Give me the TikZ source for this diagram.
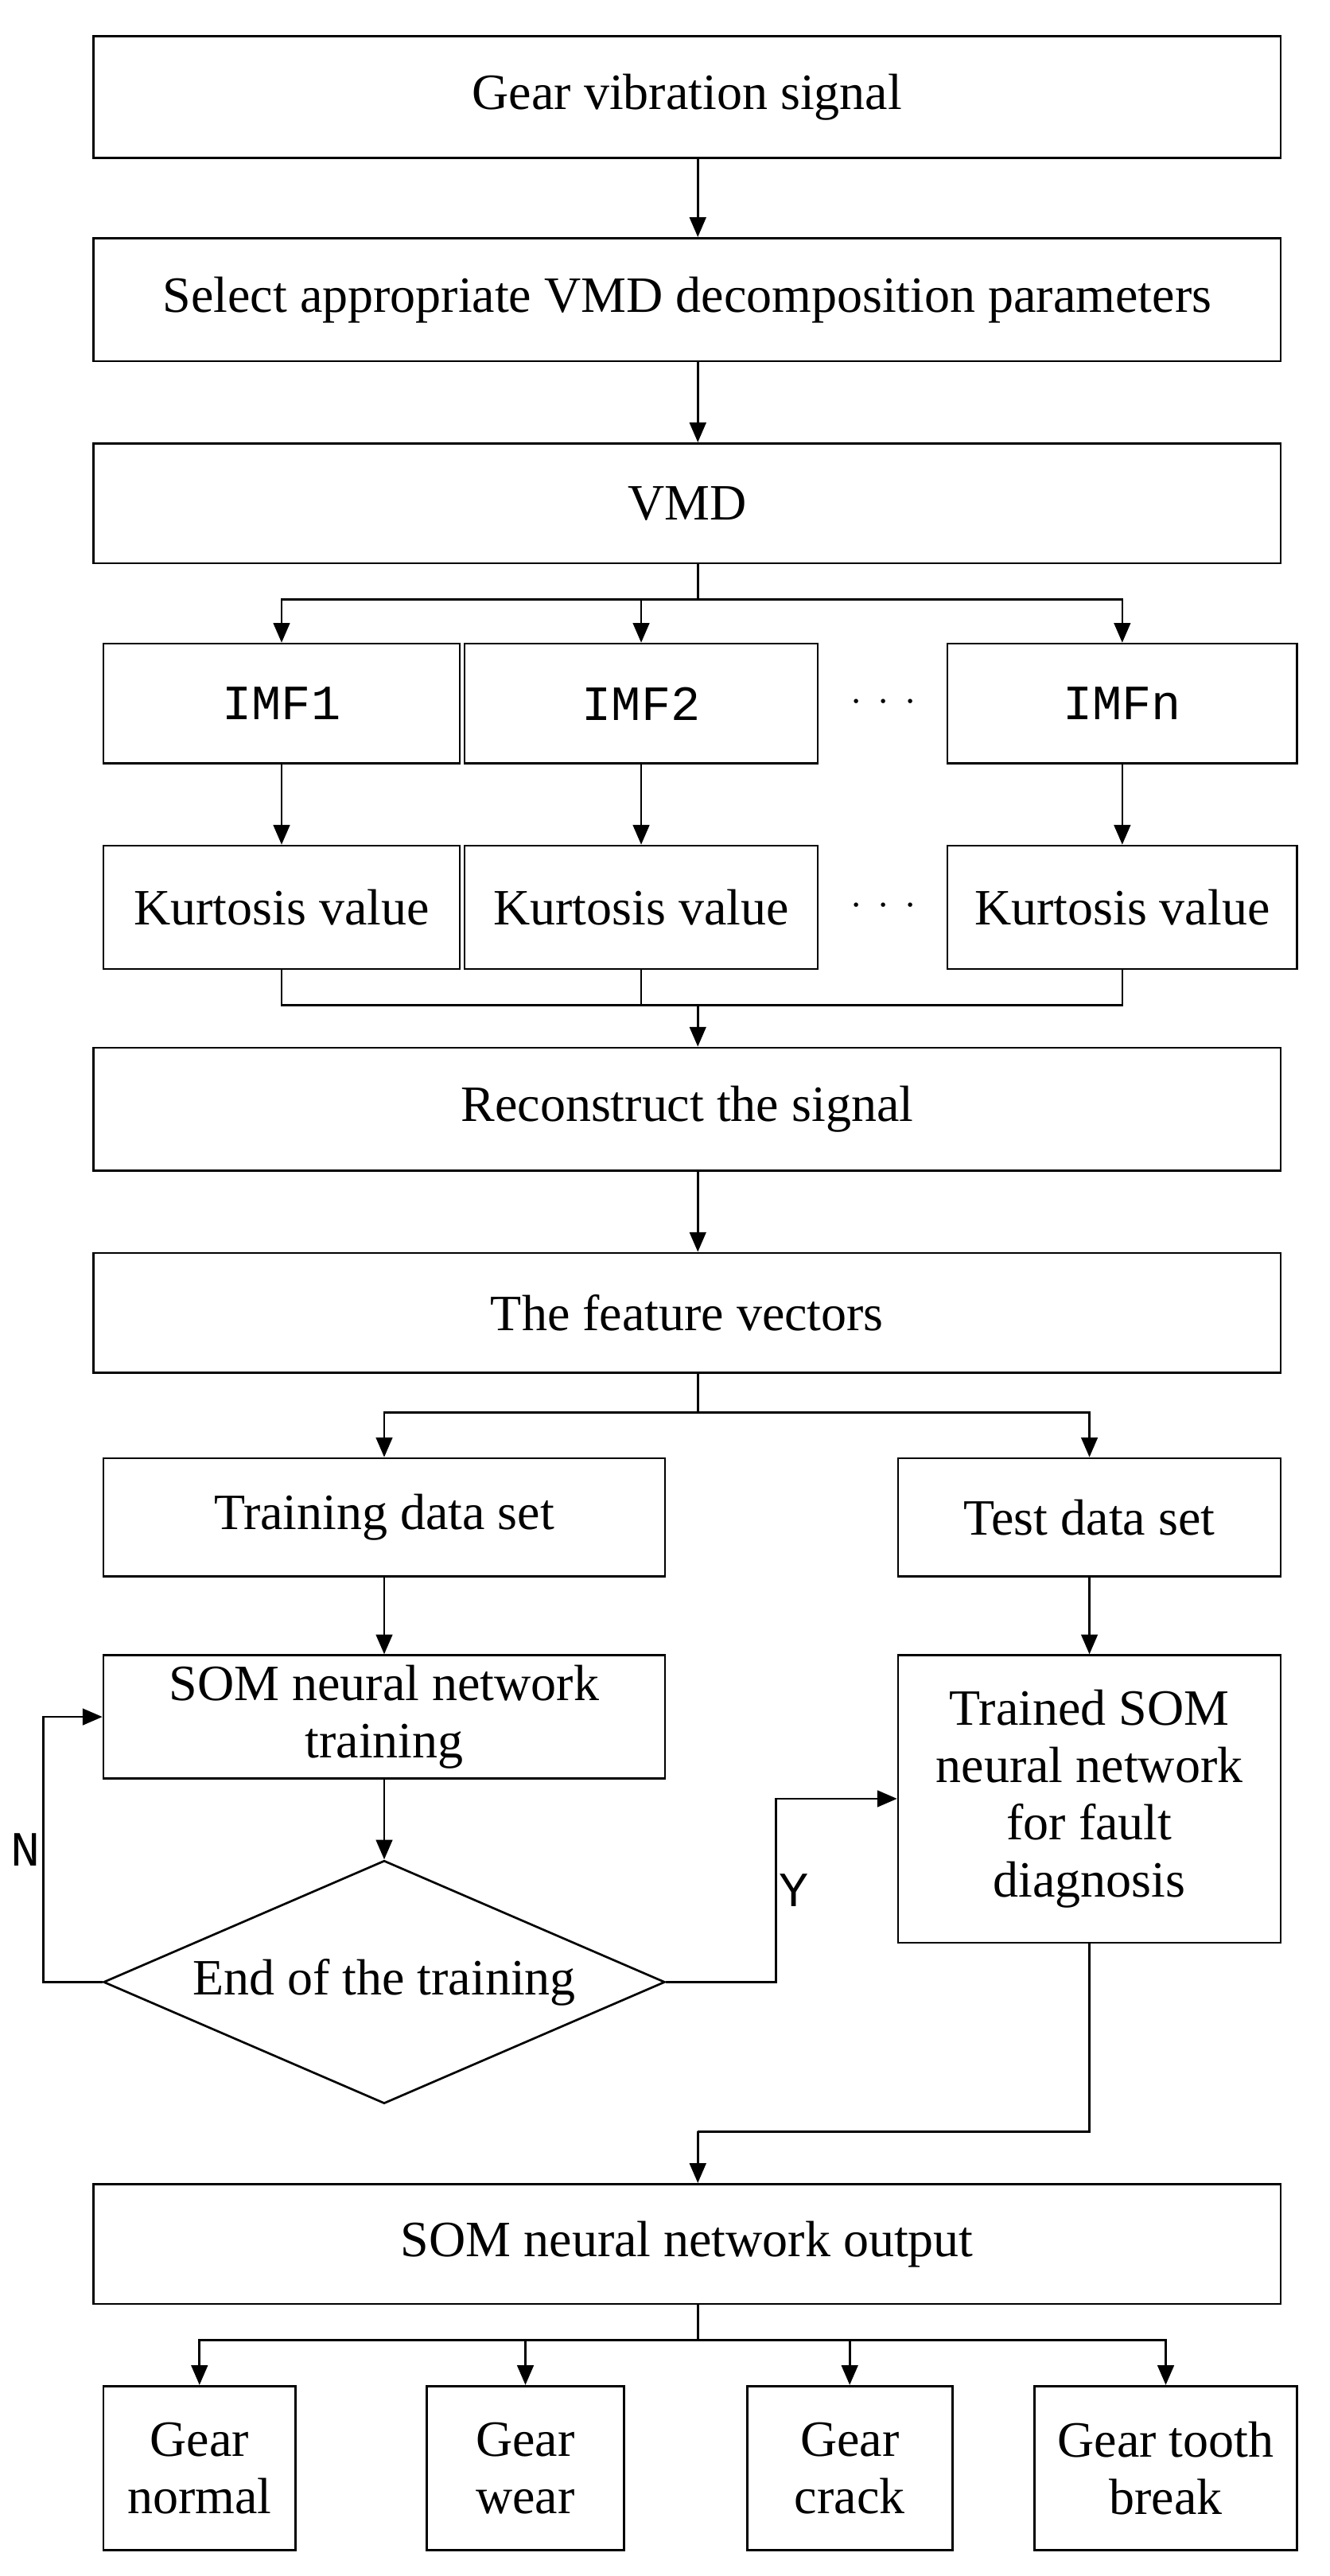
\documentclass[tikz,border=0pt]{standalone}
\usepackage{fontspec}
\setmainfont{Liberation Serif}
\newfontfamily\monof{Liberation Mono}
\usetikzlibrary{shapes.geometric,arrows.meta}
\begin{document}
\begin{tikzpicture}[x=1pt,y=-1pt,line width=1.3pt,
  box/.style={draw,rectangle,inner sep=0pt,align=center,font=\fontsize{31}{35}\selectfont},
  mono/.style={font=\monof\fontsize{30}{34}\selectfont},
  arr/.style={-{Triangle[length=12pt,width=10pt]}}]
\useasboundingbox (0,0) rectangle (810,1568.7);
\newcommand\bx[6]{\node[box,minimum width=#3-#2,minimum height=#5-#4,#6] (#1) at ({(#2+#3)/2},{(#4+#5)/2})}
\bx{b1}{57}{780}{22}{96}{}{Gear vibration signal};
\bx{b2}{57}{780}{145}{220}{}{Select appropriate VMD decomposition parameters};
\bx{b3}{57}{780}{270}{343}{}{VMD};
\bx{i1}{63}{280}{392}{465}{mono}{IMF1};
\bx{i2}{283}{498}{392}{465}{mono}{IMF2};
\bx{i3}{577}{790}{392}{465}{mono}{IMFn};
\node[font=\fontsize{34}{36}\selectfont] (d1) at (538,428) {$\cdot\,\cdot\,\cdot$};
\bx{k1}{63}{280}{515}{590}{}{Kurtosis value};
\bx{k2}{283}{498}{515}{590}{}{Kurtosis value};
\bx{k3}{577}{790}{515}{590}{}{Kurtosis value};
\node[font=\fontsize{34}{36}\selectfont] (d2) at (538,552) {$\cdot\,\cdot\,\cdot$};
\bx{r}{57}{780}{638}{713}{}{Reconstruct the signal};
\bx{f}{57}{780}{763}{836}{}{The feature vectors};
\bx{tr}{63}{405}{888}{960}{}{Training data set};
\bx{te}{547}{780}{888}{960}{}{Test data set};
\bx{st}{63}{405}{1008}{1083}{}{SOM neural network\\training};
\bx{ts}{547}{780}{1008}{1183}{}{Trained SOM\\neural network\\for fault\\diagnosis};
\node[draw,diamond,aspect=2.31,inner sep=0pt,minimum width=342,minimum height=148,font=\fontsize{31}{35}\selectfont] (dm) at (234,1207) {End of the training};
\bx{o}{57}{780}{1330}{1403}{}{SOM neural network output};
\bx{g1}{63}{180}{1453}{1553}{}{Gear\\normal};
\bx{g2}{260}{380}{1453}{1553}{}{Gear\\wear};
\bx{g3}{455}{580}{1453}{1553}{}{Gear\\crack};
\bx{g4}{630}{790}{1453}{1553}{}{Gear tooth\\break};
\coordinate (c1) at (425,365);
\coordinate (c2) at (425,612);
\coordinate (c3) at (425,860);
\coordinate (c4) at (425,1298);
\coordinate (c5) at (425,1425);
\draw[arr] (c1 |- b1.south) -- (c1 |- b2.north);
\draw[arr] (c1 |- b2.south) -- (c1 |- b3.north);
\draw (c1 |- b3.south) -- (c1);
\draw[arr] (c1) -| (i1);
\draw[arr] (c1) -| (i2);
\draw[arr] (c1) -| (i3);
\draw[arr] (i1) -- (k1);
\draw[arr] (i2) -- (k2);
\draw[arr] (i3) -- (k3);
\draw (k1.south) |- (c2);
\draw (k3.south) |- (c2);
\draw (k2.south) |- (c2);
\draw[arr] (c2) -- (c2 |- r.north);
\draw[arr] (c2 |- r.south) -- (c2 |- f.north);
\draw (c3 |- f.south) -- (c3);
\draw[arr] (c3) -| (tr);
\draw[arr] (c3) -| (te.north);
\draw[arr] (tr) -- (st);
\draw[arr] (st) -- (dm.north);
\draw[arr] (dm.west) -- ++(-36,0) |- (st.west) node[pos=0.25,left=-2pt,mono]{N};
\draw[arr] (dm.east) -- ++(67,0) |- ([yshift=-88]ts.north west) node[pos=0.25,right=-2pt,mono]{Y};
\draw[arr] (te) -- (ts);
\draw (ts.south) |- (c4);
\draw[arr] (c4) -- (c4 |- o.north);
\draw (c5 |- o.south) -- (c5);
\draw[arr] (c5) -| (g1);
\draw[arr] (c5) -| (g2);
\draw[arr] (c5) -| (g3);
\draw[arr] (c5) -| (g4);
\end{tikzpicture}
\end{document}
